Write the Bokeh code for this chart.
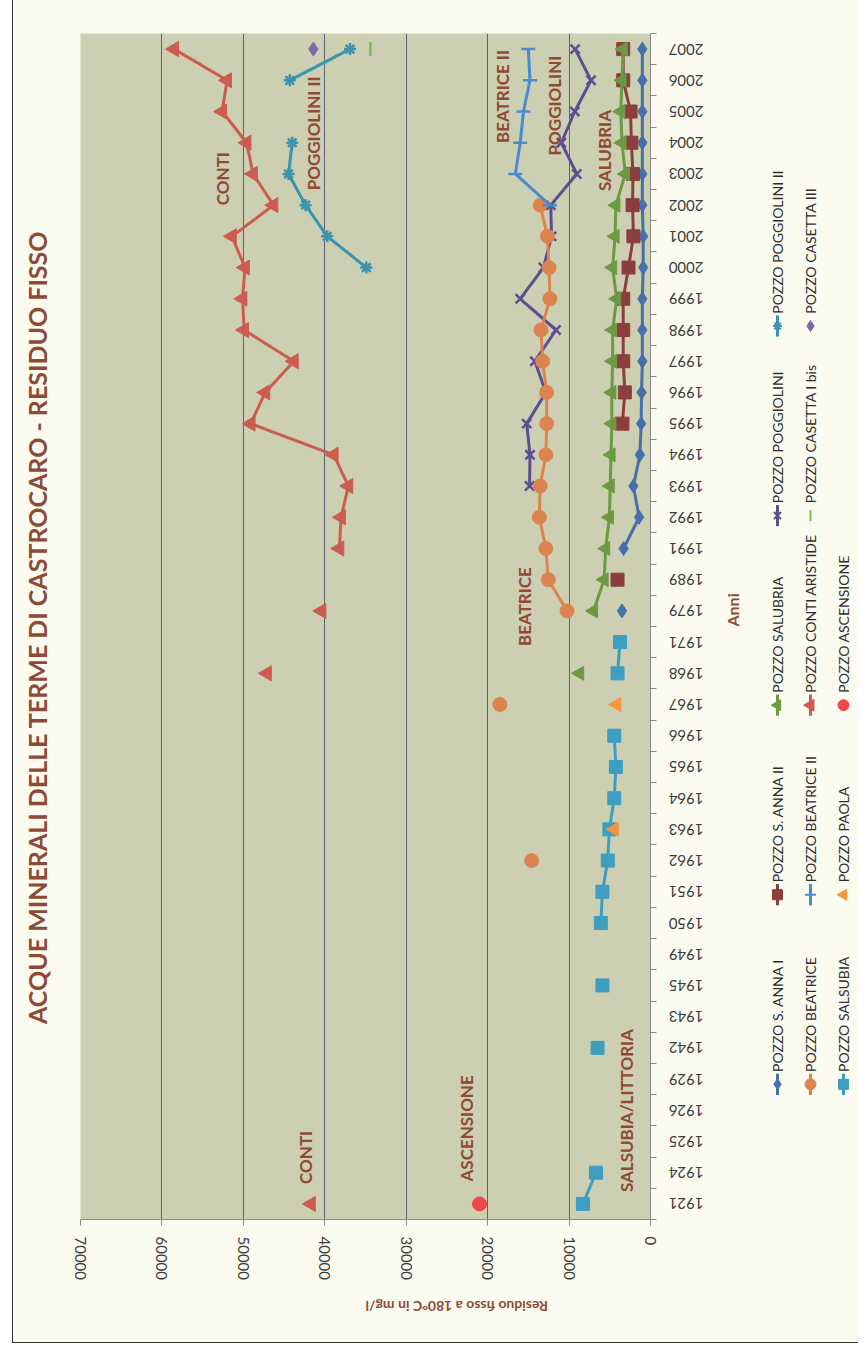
import math
import numpy as np
from bokeh.plotting import figure
from bokeh.models import Range1d, FixedTicker, NumeralTickFormatter, Label, Axis
from bokeh.layouts import row
from bokeh.embed import file_html
from bokeh.resources import INLINE
from bokeh.core.properties import value

# ---------------- data ----------------
YEARS = [1921, 1924, 1925, 1926, 1929, 1942, 1943, 1945, 1949, 1950, 1951,
         1962, 1963, 1964, 1965, 1966, 1967, 1968, 1971, 1979, 1989, 1991,
         1992, 1993, 1994, 1995, 1996, 1997, 1998, 1999, 2000, 2001, 2002,
         2003, 2004, 2005, 2006, 2007]
VALUE_TICKS = [0, 10000, 20000, 30000, 40000, 50000, 60000, 70000]

S_ANNA_I_YEARS = [1979, 1991, 1992, 1993, 1994, 1995, 1996, 1997, 1998, 1999,
                  2000, 2001, 2002, 2003, 2004, 2005, 2006, 2007]
S_ANNA_I = [3500, 3300, 1400, 2100, 1300, 1150, 1100, 1000, 1000, 1000,
            900, 900, 1000, 1000, 1000, 1000, 1000, 1000]

S_ANNA_II_YEARS = [1989, 1995, 1996, 1997, 1998, 1999, 2000, 2001, 2002, 2003,
                   2004, 2005, 2006, 2007]
S_ANNA_II = [4050, 3450, 3150, 3350, 3350, 3350, 2700, 2100, 2200, 2150,
             2350, 2450, 3350, 3350]

SALUBRIA_YEARS = [1968, 1979, 1989, 1991, 1992, 1993, 1994, 1995, 1996, 1997,
                  1998, 1999, 2000, 2001, 2002, 2003, 2004, 2005, 2006, 2007]
SALUBRIA = [8700, 7000, 5700, 5500, 5050, 4950, 4850, 4750, 4750, 4650,
            4650, 4150, 4650, 4350, 4250, 3100, 3500, 3650, 3500, 3350]

POGGIOLINI_YEARS = [1993, 1994, 1995, 1996, 1997, 1998, 1999, 2000, 2001, 2002,
                    2003, 2004, 2005, 2006, 2007]
POGGIOLINI = [14850, 14800, 15200, 12850, 14200, 11600, 16000, 13150, 12150, 12250,
              9050, 10950, 9300, 7300, 9250]

POGGIOLINI_II_YEARS = [2000, 2001, 2002, 2003, 2004, 2006, 2007]
POGGIOLINI_II = [34900, 39700, 42350, 44450, 44000, 44300, 36900]

BEATRICE_YEARS = [1962, 1967, 1979, 1989, 1991, 1992, 1993, 1994, 1995, 1996,
                  1997, 1998, 1999, 2000, 2001, 2002]
BEATRICE = [14600, 18500, 10250, 12550, 12850, 13650, 13550, 12850, 12750, 12750,
            13250, 13450, 12350, 12450, 12650, 13550]

BEATRICE_II_YEARS = [2002, 2003, 2004, 2005, 2006, 2007]
BEATRICE_II = [12350, 16600, 16000, 15600, 14800, 15000]

CONTI_YEARS = [1921, 1968, 1979, 1991, 1992, 1993, 1994, 1995, 1996, 1997,
               1998, 1999, 2000, 2001, 2002, 2003, 2004, 2005, 2006, 2007]
CONTI = [41700, 47100, 40400, 38200, 38000, 37100, 38900, 49100, 47300, 43800,
         49900, 50100, 49800, 51400, 46300, 48800, 49600, 52600, 52000, 58500]

CASETTA_I_BIS_YEARS = [2007]
CASETTA_I_BIS = [34400]

CASETTA_III_YEARS = [2007]
CASETTA_III = [41400]

SALSUBIA_YEARS = [1921, 1924, 1942, 1945, 1950, 1951, 1962, 1963, 1964, 1965,
                  1966, 1968, 1971]
SALSUBIA = [8300, 6700, 6500, 5900, 6100, 5900, 5250, 5050, 4450, 4250,
            4450, 4050, 3750]

PAOLA_YEARS = [1963, 1967]
PAOLA = [4450, 4150]

ASCENSIONE_YEARS = [1921]
ASCENSIONE = [21000]

TITLE = "ACQUE MINERALI DELLE TERME DI CASTROCARO - RESIDUO FISSO"

# ---------------- styles ----------------
PAGE_BG = "#FBFBF0"
PLOT_BG = "#CDCFB2"
BROWN = "#8E4A37"
TICK_COL = "#3C3C3C"
FONT = "Lato"
HALF = math.pi / 2

# name, years, values, color, marker, angle, size, has_line
SERIES = [
    ("POZZO S. ANNA I", S_ANNA_I_YEARS, S_ANNA_I, "#4670AB", "diamond", 0, 14, True),
    ("POZZO S. ANNA II", S_ANNA_II_YEARS, S_ANNA_II, "#8C3E3E", "square", 0, 13, True),
    ("POZZO SALUBRIA", SALUBRIA_YEARS, SALUBRIA, "#6C9A43", "triangle", HALF, 14, True),
    ("POZZO POGGIOLINI", POGGIOLINI_YEARS, POGGIOLINI, "#5B4F91", "x", 0, 13, True),
    ("POZZO POGGIOLINI II", POGGIOLINI_II_YEARS, POGGIOLINI_II, "#3B93AD", "asterisk", 0, 12, True),
    ("POZZO BEATRICE", BEATRICE_YEARS, BEATRICE, "#DB8450", "circle", 0, 14, True),
    ("POZZO BEATRICE II", BEATRICE_II_YEARS, BEATRICE_II, "#4A8BCF", "dash", 0, 14, True),
    ("POZZO CONTI ARISTIDE", CONTI_YEARS, CONTI, "#CC5B50", "triangle", HALF, 15, True),
    ("POZZO CASETTA I bis", CASETTA_I_BIS_YEARS, CASETTA_I_BIS, "#78C050", "dash", HALF, 14, False),
    ("POZZO CASETTA III", CASETTA_III_YEARS, CASETTA_III, "#7E68B0", "diamond", 0, 14, False),
    ("POZZO SALSUBIA", SALSUBIA_YEARS, SALSUBIA, "#3E9EC0", "square", 0, 13, True),
    ("POZZO PAOLA", PAOLA_YEARS, PAOLA, "#F7943F", "triangle", HALF, 14, False),
    ("POZZO ASCENSIONE", ASCENSIONE_YEARS, ASCENSIONE, "#F04848", "circle", 0, 14, False),
]

IDX = np.arange(len(YEARS))


def on_axis(years, vals):
    full = np.full(len(YEARS), np.nan)
    for yr, v in zip(years, vals):
        full[YEARS.index(yr)] = v
    return full


def blank_fig(w, h):
    f = figure(width=w, height=h, x_range=Range1d(0, w), y_range=Range1d(0, h),
               toolbar_location=None, output_backend="svg", min_border=0,
               x_axis_location=None, y_axis_location=None,
               background_fill_color=PAGE_BG, border_fill_color=PAGE_BG,
               outline_line_color=None)
    f.grid.grid_line_color = None
    return f


HAS_LABEL_ORIENT = "axis_label_orientation" in Axis.properties()
H = 1342

# ---------------- title strip ----------------
TW = 50
tf = blank_fig(TW, H)
tf.text(x=[23.5], y=[H - 672], text=[TITLE], angle=HALF, text_align="center",
        text_baseline="middle", text_font=value(FONT), text_font_style="bold",
        text_font_size="25px", text_color=BROWN)

# ---------------- main figure ----------------
MAIN_W = 697
p = figure(width=MAIN_W, height=H,
           x_range=Range1d(70000, 0), y_range=Range1d(-0.5, len(YEARS) - 0.5),
           y_axis_location="right", toolbar_location=None, output_backend="svg",
           min_border_left=17, min_border_right=110, min_border_top=33,
           min_border_bottom=123, background_fill_color=PLOT_BG,
           border_fill_color=PAGE_BG, outline_line_color=None)

for name, yrs, vals, col, mk, ang, sz, has_line in SERIES:
    xs = on_axis(yrs, vals)
    if has_line:
        p.line(xs, IDX, line_color=col, line_width=3)
    lw = 2.5 if mk in ("x", "asterisk", "dash") else 1
    p.scatter(xs, IDX, marker=mk, size=sz, angle=ang, fill_color=col,
              line_color=col, line_width=lw)

xa = p.xaxis[0]
xa.ticker = FixedTicker(ticks=VALUE_TICKS)
xa.formatter = NumeralTickFormatter(format="0")
xa.major_label_orientation = "vertical"
xa.major_tick_out = 6
xa.major_tick_in = 0
xa.minor_tick_line_color = None
xa.axis_line_color = "#8A8A8A"
xa.major_tick_line_color = "#8A8A8A"
xa.major_label_text_font = FONT
xa.major_label_text_font_size = "15px"
xa.major_label_text_color = TICK_COL
xa.major_label_standoff = 11
xa.axis_label = "Residuo fisso a 180°C in mg/l"
xa.axis_label_text_font = FONT
xa.axis_label_text_font_style = "bold"
xa.axis_label_text_font_size = "14px"
xa.axis_label_text_color = BROWN
xa.axis_label_standoff = 23
if HAS_LABEL_ORIENT:
    xa.axis_label_orientation = math.pi

ya = p.yaxis[0]
ya.ticker = FixedTicker(ticks=list(IDX), minor_ticks=[i - 0.5 for i in range(len(YEARS) + 1)])
ya.major_label_overrides = {int(i): str(y) for i, y in zip(IDX, YEARS)}
ya.major_tick_line_color = None
ya.major_tick_out = 0
ya.major_tick_in = 0
ya.minor_tick_out = 6
ya.minor_tick_in = 0
ya.minor_tick_line_color = "#8A8A8A"
ya.axis_line_color = "#8A8A8A"
ya.major_label_orientation = math.pi
ya.major_label_text_font = FONT
ya.major_label_text_font_size = "15px"
ya.major_label_text_color = TICK_COL
ya.major_label_standoff = 47
ya.axis_label = "Anni"
ya.axis_label_text_font = FONT
ya.axis_label_text_font_style = "bold"
ya.axis_label_text_font_size = "16px"
ya.axis_label_text_color = BROWN
ya.axis_label_standoff = -9
if HAS_LABEL_ORIENT:
    ya.axis_label_orientation = HALF

p.xgrid.ticker = FixedTicker(ticks=VALUE_TICKS)
p.xgrid.grid_line_color = "#5B6470"
p.xgrid.grid_line_width = 1
p.ygrid.visible = False

# in-plot series labels
PLOT_LABELS = [("CONTI", 52600, 32.85), ("POGGIOLINI II", 41400, 34.3),
               ("BEATRICE II", 18150, 35.48), ("POGGIOLINI", 11770, 35.19),
               ("SALUBRIA", 5640, 33.75), ("BEATRICE", 15450, 19.14),
               ("SALSUBIA/LITTORIA", 2950, 2.99), ("CONTI", 42400, 1.49),
               ("ASCENSIONE", 22550, 2.42)]
for txt, lx, ly in PLOT_LABELS:
    p.add_layout(Label(x=lx, y=ly, text=txt, angle=HALF, text_align="center",
                       text_baseline="middle", text_font=FONT, text_font_style="bold",
                       text_font_size="17px", text_color=BROWN))

# ---------------- legend figure ----------------
LW = 98
leg = blank_fig(LW, H)
COL_X = [17, 50, 83]
ROW0_Y = 153          # distance from legend bottom of first entry
ROW_STEP = 214.5
for i, (name, yrs, vals, col, mk, ang, sz, has_line) in enumerate(SERIES):
    cx = COL_X[i // 5]
    cy = ROW0_Y + (i % 5) * ROW_STEP
    if has_line:
        leg.segment(x0=[cx], y0=[cy - 12], x1=[cx], y1=[cy + 12],
                    line_color=col, line_width=3)
    lw = 2 if mk in ("x", "asterisk", "dash") else 1
    leg.scatter([cx], [cy], marker=mk, size=sz - 3, angle=ang, fill_color=col,
                line_color=col, line_width=lw)
    leg.text(x=[cx], y=[cy + 14], text=[name], angle=HALF, text_align="left",
             text_baseline="middle", text_font=value(FONT), text_font_size="14px",
             text_color="#2E2E2E")

layout = row(tf, p, leg, styles={"margin-left": "12px",
                                 "border-left": "1.5px solid #333333",
                                 "border-bottom": "1.5px solid #333333",
                                 "background-color": PAGE_BG})
open("out.html", "w").write(file_html(layout, INLINE))
